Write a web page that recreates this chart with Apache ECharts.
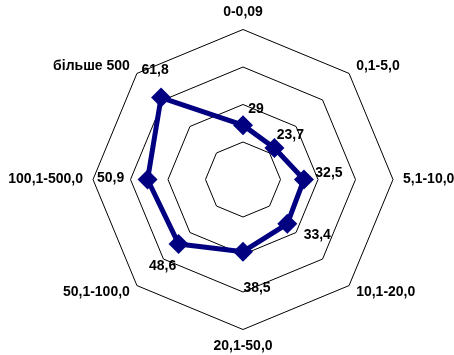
<!DOCTYPE html>
<html><head><meta charset="utf-8">
<script src="https://cdn.jsdelivr.net/npm/echarts@6/dist/echarts.min.js"></script>
<style>html,body{margin:0;padding:0;background:#fff}#c{width:454px;height:355px}</style>
</head><body><div id="c"></div>
<script>
// categories clockwise from top
var categories = ['0-0,09','0,1-5,0','5,1-10,0','10,1-20,0','20,1-50,0','50,1-100,0','100,1-500,0','більше 500'];
var values = [29, 23.7, 32.5, 33.4, 38.5, 48.6, 50.9, 61.8];
var labelOffsets = [[13,-16],[16,-13],[25,-6],[30,11],[14,36],[-16,22],[-37,-1],[-6,-27]];

// ECharts radar places indicators counter-clockwise; reorder to draw clockwise
var order = [0,7,6,5,4,3,2,1];
var indicators = order.map(function(i){ return {name: categories[i], max: 80, min: 0}; });
var vals = order.map(function(i){ return values[i]; });
function fmt(v){ return String(v).replace('.', ','); }

var FONT = {color: '#000', fontWeight: 'bold', fontSize: 14, fontFamily: 'Liberation Sans'};

var seriesData = [{
  value: vals,
  symbol: 'diamond', symbolSize: 20,
  lineStyle: {color: '#000080', width: 5},
  itemStyle: {color: '#000080'},
  label: {show: false}
}];
order.forEach(function(i, k){
  seriesData.push({
    value: vals,
    symbol: 'circle', symbolSize: 1,
    lineStyle: {opacity: 0, width: 0},
    itemStyle: {color: 'rgba(0,0,0,0)'},
    label: Object.assign({
      show: true, position: 'inside', offset: labelOffsets[i],
      formatter: function(p){ return p.value === values[i] ? fmt(values[i]) : ''; }
    }, FONT)
  });
});

var chart = echarts.init(document.getElementById('c'));
chart.setOption({
  animation: false,
  radar: {
    center: [243, 179.5], radius: 150, startAngle: 90,
    splitNumber: 4, shape: 'polygon',
    indicator: indicators,
    axisName: FONT,
    nameGap: 10,
    splitLine: {lineStyle: {color: '#000', width: 1}},
    splitArea: {show: false},
    axisLine: {show: false},
    axisTick: {show: false},
    axisLabel: {show: false}
  },
  series: [{type: 'radar', data: seriesData, silent: true}]
});
</script></body></html>
